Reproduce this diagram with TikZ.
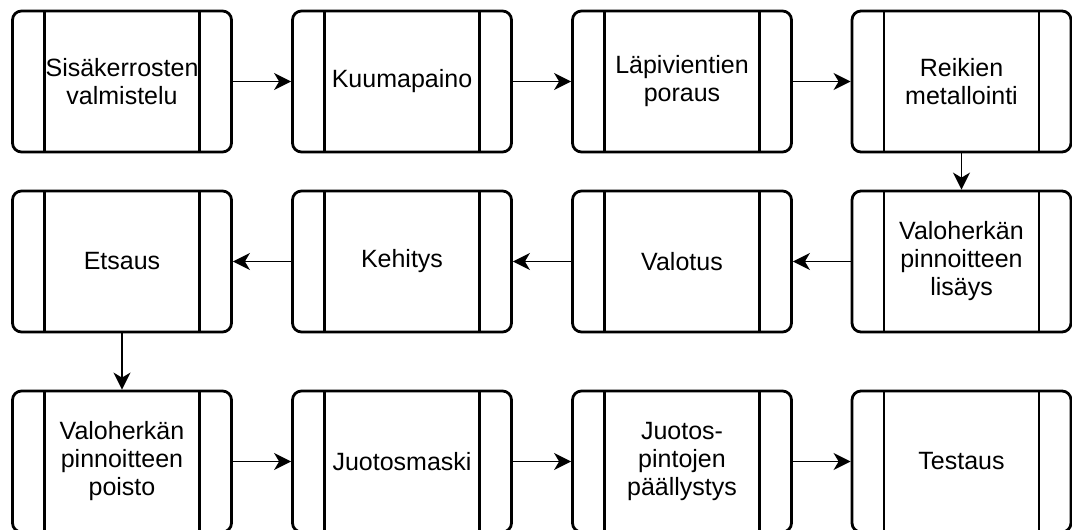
\documentclass[tikz,border=0pt]{standalone}
\usepackage{fontspec}
\setmainfont{Liberation Sans}
\usetikzlibrary{arrows.meta}
\tikzstyle{process}=[draw, line width=2.8pt, rounded corners=9pt, fill=white, minimum width=219pt, minimum height=141pt, inner sep=0pt, align=center, node font=\fontsize{25}{28}\selectfont,
	path picture={\draw[line width=2.8pt] ([xshift=32pt]path picture bounding box.north west) -- ([xshift=32pt]path picture bounding box.south west);
		\draw[line width=2.8pt] ([xshift=-32pt]path picture bounding box.north east) -- ([xshift=-32pt]path picture bounding box.south east);}]
\tikzstyle{edge} = [draw, line width=1.8pt, -{Stealth[length=17pt, width=17pt, inset=5pt]}]

\begin{document}
\begin{tikzpicture}[x=1pt, y=-1pt]
	\useasboundingbox (0,0) rectangle (1072,530);
	% First we draw the process steps
	\foreach \pos/\label/\name in {
		{(122,81.5)/1/{Sisäkerrosten\\valmistelu}},
		{(402,81.5)/2/Kuumapaino},
		{(682,81.5)/3/{Läpivientien\\poraus}},
		{(961.5,81.5)/4/{Reikien\\metallointi}},
		{(961.5,261.5)/5/{Valoherkän\\pinnoitteen\\lisäys}},
		{(682,261.5)/6/Valotus},
		{(402,261.5)/7/Kehitys},
		{(122,261.5)/8/Etsaus},
		{(122,461.5)/9/{Valoherkän\\pinnoitteen\\poisto}},
		{(402,461.5)/10/Juotosmaski},
		{(682,461.5)/11/{Juotos-\\pintojen\\päällystys}},
		{(961.5,461.5)/12/Testaus}}
	\node[process] (\label) at \pos {\name};
	
	% Connect the steps in order
	\foreach \source/ \dest in {
		1/2,
		2/3,
		3/4,
		4/5,
		5/6,
		6/7,
		7/8,
		8/9,
		9/10,
		10/11,
		11/12}
	\path[edge] (\source) -- (\dest);

\end{tikzpicture}
\end{document}
